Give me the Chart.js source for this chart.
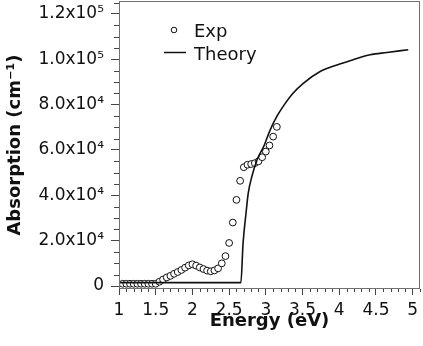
<!DOCTYPE html>
<html>
<head>
<meta charset="utf-8">
<script src="https://cdn.jsdelivr.net/npm/chart.js@4.4.1/dist/chart.umd.min.js"></script>
<style>
html, body { margin: 0; padding: 0; background: #fff; }
#wrap { width: 423px; height: 346px; }
</style>
</head>
<body>
<div id="wrap"><canvas id="absChart"></canvas></div>
<script>
'use strict';

// measured points (eV, cm-1)
var expEnergy = [1.05, 1.10, 1.15, 1.20, 1.25, 1.30, 1.35, 1.40, 1.45, 1.50,
    1.55, 1.60, 1.65, 1.70, 1.75, 1.80, 1.85, 1.90, 1.95, 2.00,
    2.05, 2.10, 2.15, 2.20, 2.25, 2.30, 2.35, 2.40, 2.45, 2.50,
    2.55, 2.60, 2.65, 2.70, 2.75, 2.80, 2.85, 2.90, 2.95, 3.00,
    3.05, 3.10, 3.15];
var expAbs = [1000, 1000, 1000, 1000, 1000, 1000, 1000, 1000, 1000, 1000,
    1900, 2900, 3800, 4500, 5400, 6200, 7100, 8100, 9100, 9600,
    9000, 8200, 7500, 6800, 6500, 6900, 7800, 10000, 13200, 19000,
    28000, 38000, 46400, 52400, 53500, 53800, 54200, 55000, 56800, 59300,
    62000, 65900, 70200];

// calculated curve
var theoryEnergy = [1.0, 2.66, 2.69, 2.73, 2.76, 2.81, 2.88, 2.97, 3.06, 3.15,
    3.25, 3.37, 3.51, 3.74, 3.97, 4.19, 4.42, 4.65, 4.94];
var theoryAbs = [1500, 1500, 18900, 32100, 40900, 48300, 55600, 61500, 68900, 74800,
    79900, 85000, 89400, 94600, 97500, 99800, 102000, 103000, 104200];

var xTickValues = [1, 1.5, 2, 2.5, 3, 3.5, 4, 4.5, 5];
var xTickLabels = ['1', '1.5', '2', '2.5', '3', '3.5', '4', '4.5', '5'];
var yTickValues = [0, 20000, 40000, 60000, 80000, 100000, 120000];
var yTickLabels = ['0', '2.0x10\u2074', '4.0x10\u2074', '6.0x10\u2074', '8.0x10\u2074', '1.0x10\u2075', '1.2x10\u2075'];

var seriesNames = ['Exp', 'Theory'];

var FONT = 'DejaVu Sans';
var INK = '#111';
var FRAME = '#707070';

function pairs(xs, ys) {
    var out = [];
    for (var i = 0; i < xs.length; i++) {
        out.push({x: xs[i], y: ys[i]});
    }
    return out;
}

// ------------------------------------------------------- //
// frame, minor ticks and the legend
// ------------------------------------------------------ //
var framePlugin = {
    id: 'frame',
    afterDatasetsDraw: function (chart) {
        var ctx = chart.ctx;
        var a = chart.chartArea;
        var xs = chart.scales.x;
        var ys = chart.scales.y;
        var v, px;

        ctx.save();
        ctx.strokeStyle = FRAME;
        ctx.lineWidth = 1;
        ctx.strokeRect(a.left + 0.5, a.top + 0.5, a.right - a.left - 1, a.bottom - a.top - 1);

        // minor ticks
        ctx.strokeStyle = '#444';
        ctx.beginPath();
        for (var i = 10; i <= 51; i++) {
            v = i / 10;
            if (i % 5 === 0 || v > xs.max) { continue; }
            px = Math.round(xs.getPixelForValue(v)) + 0.5;
            ctx.moveTo(px, a.bottom);
            ctx.lineTo(px, a.bottom + 3);
        }
        for (var j = 1; j <= 25; j++) {
            v = j * 5000;
            if (j % 4 === 0 || v > ys.max) { continue; }
            px = Math.round(ys.getPixelForValue(v)) + 0.5;
            ctx.moveTo(a.left, px);
            ctx.lineTo(a.left - 5, px);
        }
        ctx.stroke();

        // legend
        ctx.font = '18px "' + FONT + '"';
        ctx.textBaseline = 'alphabetic';
        ctx.textAlign = 'left';

        ctx.beginPath();
        ctx.arc(174, 30, 2.8, 0, Math.PI * 2);
        ctx.fillStyle = '#fff';
        ctx.fill();
        ctx.strokeStyle = INK;
        ctx.lineWidth = 1;
        ctx.stroke();

        ctx.beginPath();
        ctx.moveTo(164, 52.5);
        ctx.lineTo(186, 52.5);
        ctx.lineWidth = 1.5;
        ctx.stroke();

        ctx.fillStyle = INK;
        ctx.fillText(seriesNames[0], 194, 37);
        ctx.fillText(seriesNames[1], 194, 60);
        ctx.restore();
    }
};

var CHART = document.getElementById('absChart');
var myChart = new Chart(CHART, {
    type: 'scatter',
    data: {
        datasets: [
            {
                label: seriesNames[1],
                data: pairs(theoryEnergy, theoryAbs),
                showLine: true,
                borderColor: INK,
                borderWidth: 1.6,
                pointRadius: 0,
                cubicInterpolationMode: 'monotone',
                fill: false
            },
            {
                label: seriesNames[0],
                data: pairs(expEnergy, expAbs),
                showLine: false,
                pointRadius: 3.4,
                pointBorderWidth: 1,
                pointBorderColor: INK,
                pointBackgroundColor: '#fff'
            }
        ]
    },
    options: {
        responsive: true,
        maintainAspectRatio: false,
        animation: false,
        devicePixelRatio: 1,
        layout: {
            autoPadding: false,
            padding: {top: 1, right: 3, left: 0, bottom: 0}
        },
        plugins: {
            legend: {display: false},
            tooltip: {enabled: false}
        },
        scales: {
            x: {
                type: 'linear',
                min: 1,
                max: 5.1,
                afterBuildTicks: function (s) {
                    s.ticks = xTickValues.map(function (v) { return {value: v}; });
                },
                afterFit: function (s) {
                    s.height = 57;
                    s.paddingLeft = 0;
                    s.paddingRight = 0;
                },
                ticks: {
                    autoSkip: false,
                    maxRotation: 0,
                    padding: 5,
                    color: INK,
                    font: {family: FONT, size: 17},
                    callback: function (value, index) { return xTickLabels[index]; }
                },
                grid: {
                    drawOnChartArea: false,
                    drawTicks: true,
                    tickLength: 6,
                    tickColor: '#444'
                },
                border: {display: false},
                title: {
                    display: true,
                    text: 'Energy (eV)',
                    color: INK,
                    font: {family: FONT, size: 18, weight: 'bold'},
                    padding: {top: 0, bottom: 14}
                }
            },
            y: {
                type: 'linear',
                min: -1300,
                max: 125700,
                afterBuildTicks: function (s) {
                    s.ticks = yTickValues.map(function (v) { return {value: v}; });
                },
                afterFit: function (s) {
                    s.width = 119;
                    s.paddingTop = 0;
                    s.paddingBottom = 0;
                },
                ticks: {
                    padding: 7,
                    color: INK,
                    font: {family: FONT, size: 17},
                    callback: function (value, index) { return yTickLabels[index]; }
                },
                grid: {
                    drawOnChartArea: false,
                    drawTicks: true,
                    tickLength: 8,
                    tickColor: '#444'
                },
                border: {display: false},
                title: {
                    display: true,
                    text: 'Absorption (cm\u207B\u00B9)',
                    color: INK,
                    font: {family: FONT, size: 18, weight: 'bold'},
                    padding: {top: 5, bottom: 0}
                }
            }
        }
    },
    plugins: [framePlugin]
});
</script>
</body>
</html>
